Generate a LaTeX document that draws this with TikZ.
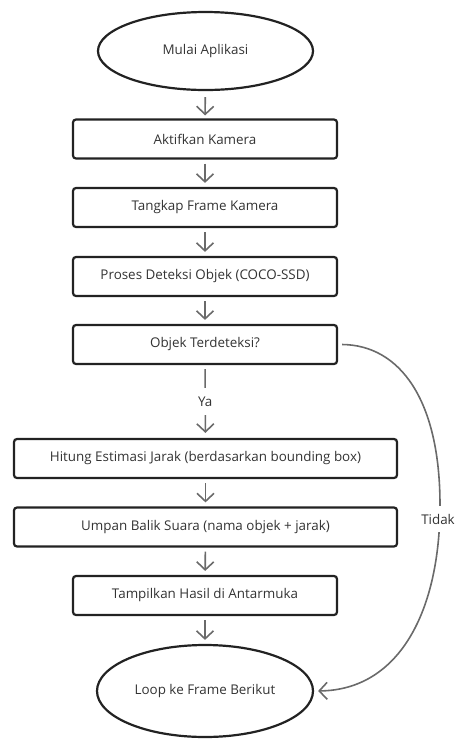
\documentclass[tikz,border=0pt]{standalone}
\usepackage{fontspec}
\setmainfont{Open Sans}
\usetikzlibrary{shapes.geometric,arrows.meta}
\definecolor{txt}{HTML}{333333}
\definecolor{edge}{HTML}{222222}
\definecolor{arr}{HTML}{6A6A6A}
\tikzset{
  stepbox/.style={draw=edge, line width=2.2pt, rounded corners=3pt, rectangle,
    minimum height=39pt, inner sep=0pt, text=txt, font=\fontsize{13.4pt}{15pt}\selectfont},
  narrowbox/.style={stepbox, minimum width=264pt},
  widebox/.style={stepbox, minimum width=383pt},
  term/.style={ellipse, draw=edge, line width=2.2pt, inner sep=0pt, text=txt,
    font=\fontsize{13.4pt}{15pt}\selectfont},
  flow/.style={draw=arr, line width=1.6pt, -{Straight Barb[length=8pt,width=17pt]}},
  lbl/.style={text=txt, font=\fontsize{13.4pt}{15pt}\selectfont, fill=white}
}
\begin{document}
\begin{tikzpicture}[x=1pt,y=-1pt]
\useasboundingbox (0,0) rectangle (459,740);
\node[term, minimum width=215pt, minimum height=78pt] (e1) at (205.5,51) {Mulai Aplikasi};
\node[narrowbox] (b1) at (205,139) {Aktifkan Kamera};
\node[narrowbox] (b2) at (205,207.5) {Tangkap Frame Kamera};
\node[narrowbox] (b3) at (205,276.5) {Proses Deteksi Objek (COCO-SSD)};
\node[narrowbox] (b4) at (205,344.5) {Objek Terdeteksi?};
\node[widebox] (b5) at (205.5,458.5) {Hitung Estimasi Jarak (berdasarkan bounding box)};
\node[widebox] (b6) at (205.5,527) {Umpan Balik Suara (nama objek + jarak)};
\node[narrowbox] (b7) at (205,595.5) {Tampilkan Hasil di Antarmuka};
\node[term, minimum width=216pt, minimum height=92pt] (e2) at (205,691) {Loop ke Frame Berikut};

\draw[flow, shorten <=6pt, shorten >=3pt] (e1) -- (b1);
\draw[flow, shorten <=4pt, shorten >=4pt] (b1) -- (b2);
\draw[flow, shorten <=4pt, shorten >=4pt] (b2) -- (b3);
\draw[flow, shorten <=4pt, shorten >=4pt] (b3) -- (b4);
\draw[flow, shorten <=4pt, shorten >=5pt] (b4) -- node[lbl, inner xsep=4pt, inner ysep=9pt] (ya) {Ya} (b5);
\draw[flow, shorten <=4pt, shorten >=4pt] (b5) -- (b6);
\draw[flow, shorten <=4pt, shorten >=4pt] (b6) -- (b7);
\draw[flow, shorten <=4pt, shorten >=4pt] (b7) -- (e2);

\coordinate (c) at (440,505);
\draw[flow, shorten >=4pt] ([xshift=4pt]b4.east) .. controls (400,345) and (440,400) .. (c)
   .. controls (440,610) and (400,690) .. (e2.east);
\node[lbl, inner xsep=2pt, inner ysep=8pt] (tidak) at (438,519) {Tidak};
\end{tikzpicture}
\end{document}
